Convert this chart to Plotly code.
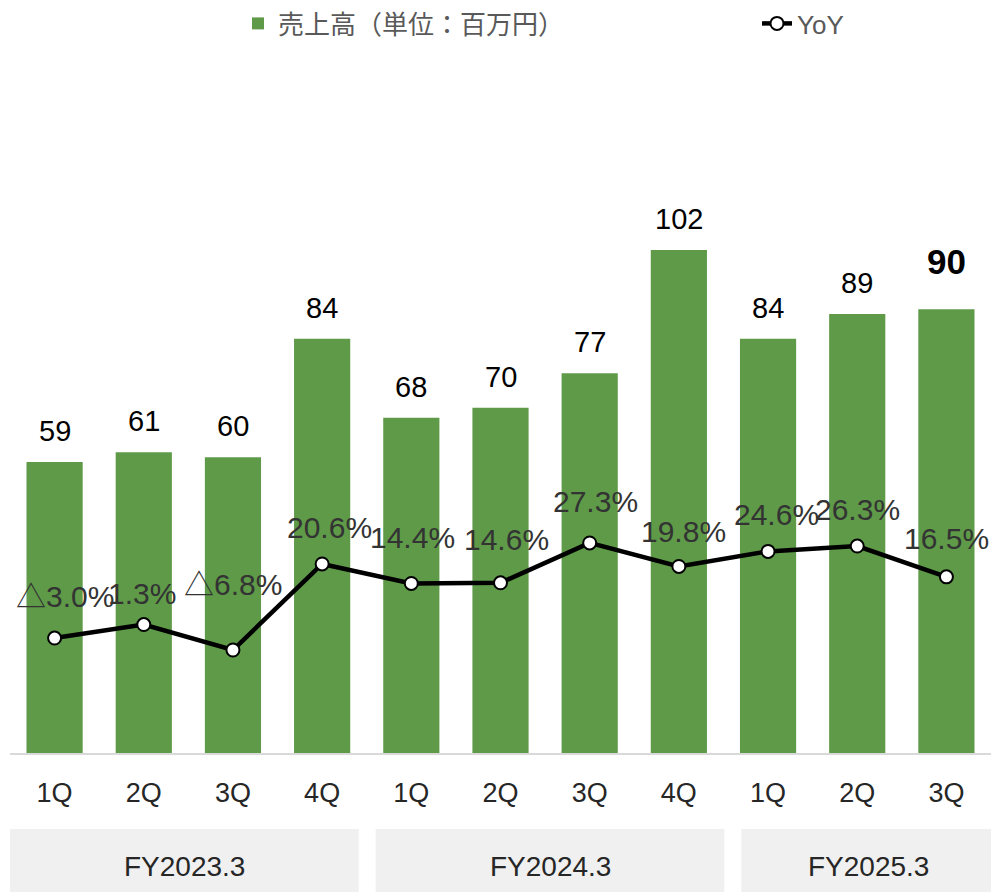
import plotly.graph_objects as go

# ---- data ----
quarters = ["1Q", "2Q", "3Q", "4Q", "1Q", "2Q", "3Q", "4Q", "1Q", "2Q", "3Q"]
fiscal_years = ["FY2023.3", "FY2024.3", "FY2025.3"]
quarters_per_year = [4, 4, 3]
sales = [59, 61, 60, 84, 68, 70, 77, 102, 84, 89, 90]
yoy = [-3.0, 1.3, -6.8, 20.6, 14.4, 14.6, 27.3, 19.8, 24.6, 26.3, 16.5]

# ---- label placement (style only) ----
yoy_dx = [10, -2, 0, 7, 1, 6, 6, 5, 8, 0, 0]
yoy_dy = [42, 31, 66, 36, 46, 43, 41, 35, 37, 37, 38]

x = list(range(len(quarters)))
FONT = "Liberation Sans, Arial, Noto Sans CJK JP, sans-serif"
GREEN = "#5E9A48"

fig = go.Figure()
fig.add_trace(go.Bar(
    x=x, y=sales, name="売上高（単位：百万円）",
    marker=dict(color=GREEN, line=dict(width=0)),
    width=0.63, legend="legend", hoverinfo="skip",
))
fig.add_trace(go.Scatter(
    x=x, y=yoy, name="YoY", yaxis="y2", mode="lines+markers",
    line=dict(color="#000000", width=4.5),
    marker=dict(size=13, color="#FFFFFF", line=dict(color="#000000", width=2)),
    legend="legend2", hoverinfo="skip",
))

annotations = []
last = len(sales) - 1
for i, v in enumerate(sales):
    hi = (i == last)
    annotations.append(dict(
        x=x[i], y=v, xref="x", yref="y", showarrow=False,
        text=f"<b>{v}</b>" if hi else str(v),
        yshift=48 if hi else 31, yanchor="middle",
        font=dict(family=FONT, size=35 if hi else 29, color="#000000"),
    ))
for i, v in enumerate(yoy):
    txt = (f"△{abs(v):.1f}%" if v < 0 else f"{v:.1f}%")
    annotations.append(dict(
        x=x[i], y=v, xref="x", yref="y2", showarrow=False, text=txt,
        xshift=yoy_dx[i], yshift=yoy_dy[i], yanchor="middle",
        font=dict(family=FONT, size=30, color="#333333"),
    ))

PLOT_H = 753  # plot area height in px
def py(px_below_axis):
    return -px_below_axis / PLOT_H

# fiscal year group boxes below axis
shapes = []
box_x0 = [-0.5, 3.6, 7.7]
for k, (fy, n) in enumerate(zip(fiscal_years, quarters_per_year)):
    x0 = box_x0[k]
    x1 = x0 + 3.91
    shapes.append(dict(type="rect", xref="x", yref="paper", x0=x0, x1=x1,
                       y0=py(142), y1=py(76), fillcolor="#F0F0F0",
                       line=dict(width=0), layer="below"))
    annotations.append(dict(
        x=(x0 + min(x1, 10.55)) / 2, y=py(113), xref="x", yref="paper",
        showarrow=False, text=fy, yanchor="middle",
        font=dict(family=FONT, size=28, color="#262626"),
    ))

fig.update_layout(
    width=995, height=892,
    margin=dict(l=10, r=4, t=0, b=139),
    paper_bgcolor="#FFFFFF", plot_bgcolor="#FFFFFF",
    font=dict(family=FONT, color="#262626"),
    showlegend=True,
    legend=dict(orientation="h", x=(238 - 10) / 981, xanchor="left",
                y=1, yanchor="top",
                font=dict(family=FONT, size=26, color="#595959"),
                bgcolor="rgba(0,0,0,0)"),
    legend2=dict(orientation="h", x=(757 - 10) / 981, xanchor="left",
                 y=1, yanchor="top",
                 font=dict(family=FONT, size=26, color="#595959"),
                 bgcolor="rgba(0,0,0,0)"),
    xaxis=dict(
        tickmode="array", tickvals=x, ticktext=quarters,
        range=[-0.5, len(x) - 0.5],
        showline=True, linecolor="#D9D9D9", linewidth=1.5,
        ticks="outside", ticklen=15, tickcolor="rgba(0,0,0,0)",
        tickfont=dict(family=FONT, size=27, color="#262626"),
        showgrid=False, zeroline=False, fixedrange=True,
    ),
    yaxis=dict(range=[0, 152.7], visible=False, showgrid=False, zeroline=False),
    yaxis2=dict(range=[-39.6, 200.2], overlaying="y", side="right",
                visible=False, showgrid=False, zeroline=False),
    annotations=annotations,
    shapes=shapes,
    bargap=0.37,
)

fig.write_html(
    "out.html",
    config={"displayModeBar": False},
    post_script="document.body.style.margin='0';document.body.style.overflow='hidden';",
)
